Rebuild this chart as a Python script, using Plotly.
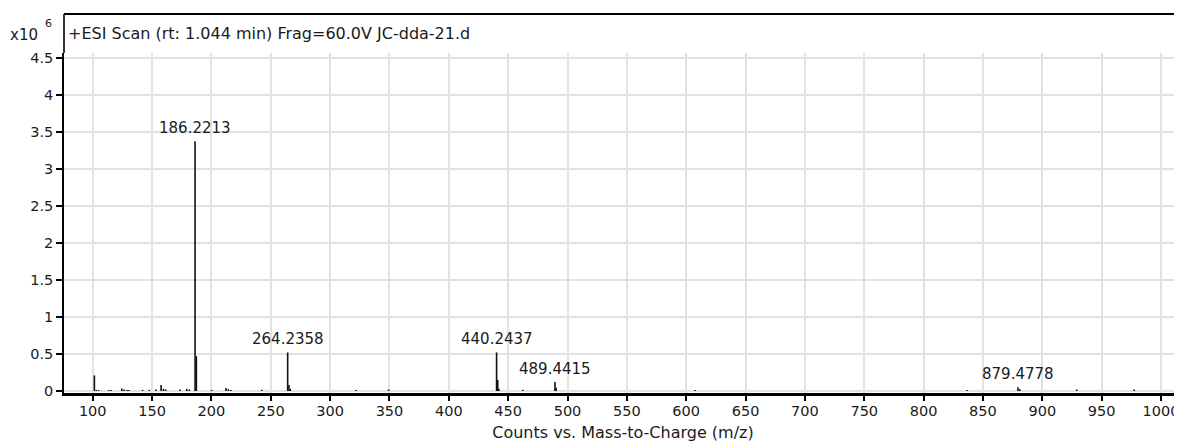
import plotly.graph_objects as go

# ---------------- data (intensity in units of 10^6 counts) ----------------
peak_mz = [101.4, 103.0, 105.0, 113.5, 115.5, 124.5, 126.5, 129.0, 130.5, 142.0,
           147.7, 153.3, 157.6, 159.6, 161.5, 173.6, 179.2, 181.4, 186.2213, 187.3,
           200.2, 212.3, 214.3, 216.5, 242.4, 264.2358, 265.3, 266.4, 321.7, 349.2,
           440.2437, 441.2, 442.2, 462.3, 489.4415, 490.4, 607.5, 836.5, 879.4778,
           881.0, 929.0, 977.4]
peak_int = [0.21, 0.015, 0.012, 0.012, 0.013, 0.035, 0.02, 0.015, 0.015, 0.015,
            0.015, 0.02, 0.08, 0.03, 0.02, 0.02, 0.03, 0.02, 3.37, 0.47,
            0.015, 0.04, 0.025, 0.015, 0.015, 0.52, 0.08, 0.03, 0.015, 0.02,
            0.52, 0.15, 0.03, 0.015, 0.12, 0.045, 0.015, 0.015, 0.05,
            0.025, 0.02, 0.02]

label_mz = [186.2213, 264.2358, 440.2437, 489.4415, 879.4778]
label_int = [3.37, 0.52, 0.52, 0.12, 0.05]

x_ticks = [100, 150, 200, 250, 300, 350, 400, 450, 500, 550, 600, 650, 700, 750,
           800, 850, 900, 950, 1000]
y_ticks = [0, 0.5, 1, 1.5, 2, 2.5, 3, 3.5, 4, 4.5]
y_tick_text = ["0", "0.5", "1", "1.5", "2", "2.5", "3", "3.5", "4", "4.5"]

title_text = "+ESI Scan (rt: 1.044 min) Frag=60.0V JC-dda-21.d"
x_title = "Counts vs. Mass-to-Charge (m/z)"

# ---------------- layout constants ----------------
OFF = 8                      # page body margin offset
W, H = 1182 - OFF, 445 - OFF
ML, MR, MT, MB = 56, 0, 45, 52
PLOT_H = H - MT - MB
FONT = "DejaVu Sans"
FS_TXT = 16
FS_TICK = 14.5
FS_LAB = 15
TXT = "#1a1a1a"

# build stick spectrum
sx, sy = [], []
for m, h in zip(peak_mz, peak_int):
    sx += [m, m, None]
    sy += [0, h, None]

fig = go.Figure()
fig.add_trace(go.Scatter(x=sx, y=sy, mode="lines",
                         line=dict(color="#111111", width=1.6),
                         hoverinfo="skip", showlegend=False))

for m, h in zip(label_mz, label_int):
    fig.add_annotation(x=m, y=h, text=f"{m:.4f}", showarrow=False,
                       xanchor="center", yanchor="bottom", yshift=2,
                       font=dict(family=FONT, size=FS_LAB, color=TXT))

def py(page_y):
    # convert page pixel y to paper coords
    return 1 + (MT - (page_y - OFF)) / PLOT_H

# title inside frame
fig.add_annotation(xref="paper", yref="paper", x=0, y=py(33.5), xanchor="left",
                   yanchor="middle", xshift=2, text=title_text, showarrow=False,
                   font=dict(family=FONT, size=FS_TXT, color=TXT))
# x10^6 marker
fig.add_annotation(xref="paper", yref="paper", x=0, y=py(35), xanchor="right",
                   yanchor="middle", xshift=-24, text="x10", showarrow=False,
                   font=dict(family=FONT, size=FS_LAB, color=TXT))
fig.add_annotation(xref="paper", yref="paper", x=0, y=py(23), xanchor="right",
                   yanchor="middle", xshift=-10, text="6", showarrow=False,
                   font=dict(family=FONT, size=11, color=TXT))

# frame: top line and left line extension
fig.add_shape(type="line", xref="paper", yref="paper", x0=0, x1=1.0,
              y0=py(14), y1=py(14), line=dict(color="black", width=2))
fig.add_shape(type="line", xref="paper", yref="paper", x0=0, x1=0,
              y0=1, y1=py(14), line=dict(color="black", width=1.6))

fig.update_layout(
    width=W, height=H,
    margin=dict(l=ML, r=MR, t=MT, b=MB, pad=0),
    paper_bgcolor="white", plot_bgcolor="white",
    font=dict(family=FONT, size=FS_TICK, color=TXT),
    showlegend=False,
    xaxis=dict(range=[75.8, 1017.7], tickmode="array", tickvals=x_ticks,
               showgrid=True, gridcolor="#e2e2e2", gridwidth=1.5,
               zeroline=False, showline=True, linecolor="black", linewidth=3,
               ticks="outside", ticklen=5, tickwidth=1.5, tickcolor="black",
               ticklabelstandoff=-2,
               tickfont=dict(family=FONT, size=FS_TICK, color=TXT),
               title=dict(text=x_title, standoff=9,
                          font=dict(family=FONT, size=FS_TXT, color=TXT))),
    yaxis=dict(range=[-0.027, 4.561], tickmode="array", tickvals=y_ticks,
               ticktext=y_tick_text,
               showgrid=True, gridcolor="#e2e2e2", gridwidth=1.5,
               zeroline=False, showline=True, linecolor="black", linewidth=1.6,
               ticks="outside", ticklen=6, tickwidth=1.5, tickcolor="black",
               tickfont=dict(family=FONT, size=FS_TICK, color=TXT)),
)

fig.write_html("out.html", config={"displayModeBar": False})
